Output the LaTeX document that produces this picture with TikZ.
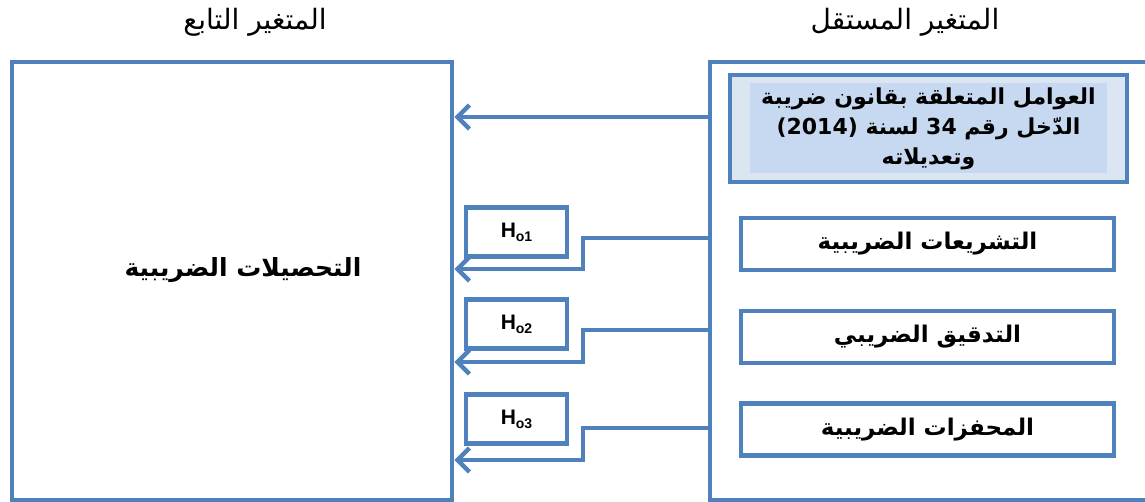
\documentclass[tikz,border=0pt]{standalone}
\usepackage{fontspec}
\setmainfont{Liberation Sans}
\newfontfamily\arabicfont[Script=Arabic]{DejaVu Sans}
\TeXXeTstate=1
\usetikzlibrary{arrows.meta}
\definecolor{lineblue}{HTML}{4F81BD}
\definecolor{factorfill}{HTML}{DCE6F2}
\definecolor{factorinner}{HTML}{C6D9F0}

\begin{document}
\begin{tikzpicture}[x=1pt,y=-1pt]
	\tikzstyle{varbox}=[draw=lineblue, line width=4.5pt, shape=rectangle, inner sep=0pt];
	\tikzstyle{factorbox}=[draw=lineblue, line width=4.5pt, shape=rectangle, minimum width=373, minimum height=52, font=\arabicfont\bfseries\fontsize{23}{26}\selectfont];
	\tikzstyle{hbox}=[draw=lineblue, line width=4.5pt, shape=rectangle, minimum width=101, minimum height=49, font=\bfseries\fontsize{21}{24}\selectfont];
	\tikzstyle{conn}=[draw=lineblue, line width=4.5pt, -{Straight Barb[length=12pt,width=24pt]}];
	\tikzstyle{title}=[font=\arabicfont\fontsize{28}{32}\selectfont];

	\useasboundingbox (0,0) rectangle (1145,502);

	\node[title] (tdep) at (255,22) {\beginR المتغير التابع\endR};
	\node[title] (tind) at (905,22) {\beginR المتغير المستقل\endR};

	\node[varbox, minimum width=440, minimum height=438] (dep) at (232,281) {};
	\node[varbox, minimum width=440, minimum height=438] (ind) at (930,281) {};
	\node[font=\arabicfont\bfseries\fontsize{25}{28}\selectfont] (deptxt) at (243,270) {\beginR التحصيلات الضريبية\endR};

	\node[factorbox, fill=factorfill, minimum width=397, minimum height=107, align=center, font=\arabicfont\bfseries\fontsize{22}{30}\selectfont,
	  path picture={\fill[factorinner] ([shift={(20pt,9pt)}]path picture bounding box.south west) rectangle ([shift={(-20pt,-8pt)}]path picture bounding box.north east);}] (law) at (928.5,128.5) {\beginR العوامل المتعلقة بقانون ضريبة\endR\\ \beginR الدّخل رقم \beginL 34\endL{} لسنة \beginL(2014)\endL{}\endR\\ \beginR وتعديلاته\endR};
	\node[factorbox] (leg) at (927.5,244) {\beginR التشريعات الضريبية\endR};
	\node[factorbox] (aud) at (927.5,337) {\beginR التدقيق الضريبي\endR};
	\node[factorbox] (inc) at (927.5,429.5) {\beginR المحفزات الضريبية\endR};

	\node[hbox] (h1) at (516.5,232) {H\raisebox{-0.35ex}{\fontsize{14}{16}\selectfont o1}};
	\node[hbox] (h2) at (516.5,324) {H\raisebox{-0.35ex}{\fontsize{14}{16}\selectfont o2}};
	\node[hbox] (h3) at (516.5,419) {H\raisebox{-0.35ex}{\fontsize{14}{16}\selectfont o3}};

	\coordinate (s0) at (ind.west |- 0,117);
	\coordinate (s1) at (ind.west |- 0,238);
	\coordinate (s2) at (ind.west |- 0,330);
	\coordinate (s3) at (ind.west |- 0,428);
	\coordinate (k1) at (583,269);
	\coordinate (k2) at (583,362);
	\coordinate (k3) at (583,460);

	\draw[conn] (s0) -- (dep.east |- s0);
	\draw[conn] (s1) -- (k1 |- s1) -- (k1) -- (dep.east |- k1);
	\draw[conn] (s2) -- (k2 |- s2) -- (k2) -- (dep.east |- k2);
	\draw[conn] (s3) -- (k3 |- s3) -- (k3) -- (dep.east |- k3);

\end{tikzpicture}
\end{document}
